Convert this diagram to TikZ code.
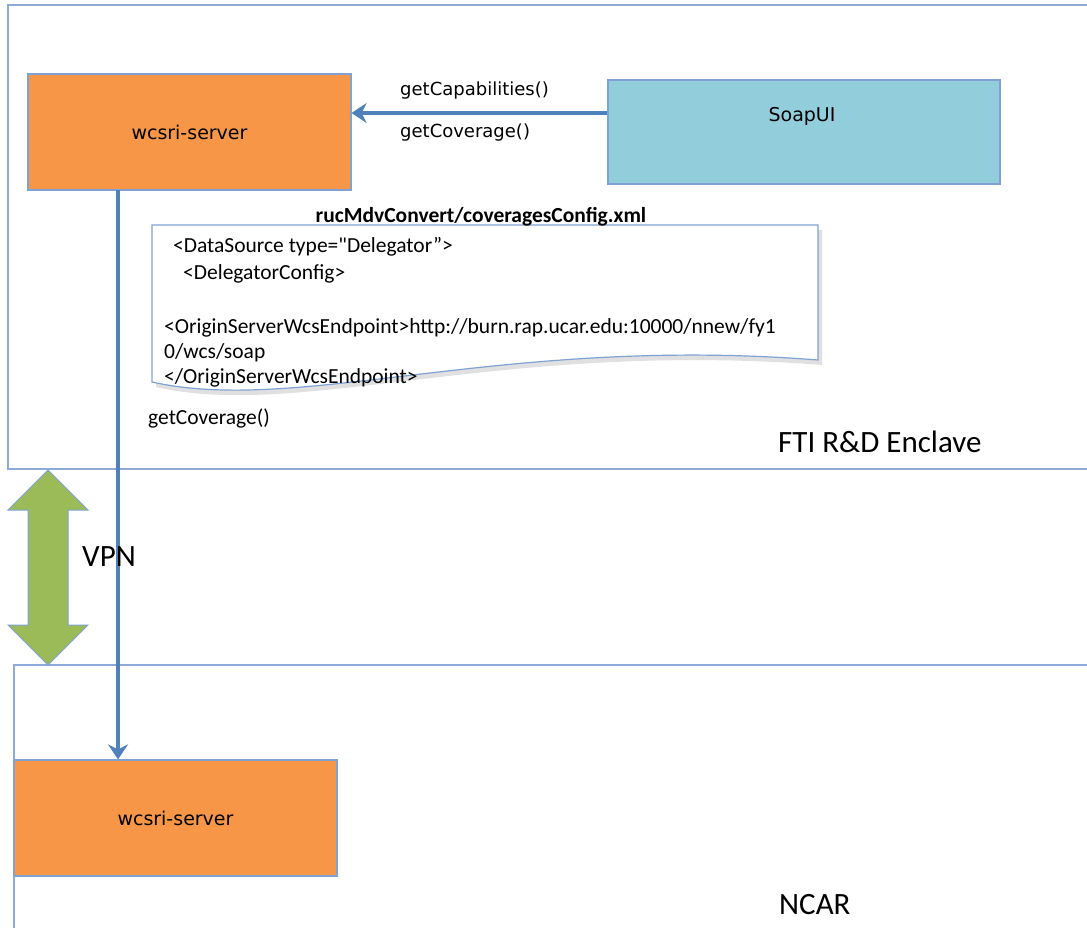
\documentclass[tikz,border=0pt]{standalone}
\usepackage{fontspec}
\setmainfont{Carlito}
\newfontfamily\vfont{DejaVu Sans}
\newfontfamily\docfont{Carlito}
\usetikzlibrary{arrows.meta}
\definecolor{zoneline}{HTML}{8EAADB}
\definecolor{boxline}{HTML}{7EA2D3}
\definecolor{orangefill}{HTML}{F79646}
\definecolor{soapfill}{HTML}{92CDDC}
\definecolor{flowblue}{HTML}{4F81BD}
\definecolor{vpngreen}{HTML}{9BBB59}
\tikzset{
  zone/.style={draw=zoneline, line width=1.5pt},
  server/.style={draw=boxline, line width=1.2pt, fill=orangefill, minimum width=323pt, minimum height=116pt, font=\vfont\fontsize{19}{22}\selectfont, inner sep=0pt},
  soap/.style={draw=boxline, line width=1.2pt, fill=soapfill, minimum width=392pt, minimum height=104pt, inner sep=0pt},
  flow/.style={draw=flowblue, line width=3.5pt, -{Stealth[length=15pt,width=20pt,inset=5pt]}},
  calltext/.style={font=\vfont\fontsize{18}{20}\selectfont, anchor=west, inner sep=0pt},
  doctext/.style={font=\docfont\fontsize{21.5}{24}\selectfont, anchor=west, inner sep=0pt},
  bigtext/.style={font=\fontsize{31}{34}\selectfont, anchor=west, inner sep=0pt},
}
\begin{document}
\begin{tikzpicture}[x=1pt,y=-1pt]
\useasboundingbox (0,0) rectangle (1087,927);
% zones
\draw[zone] (1100,5) -- (8,5) -- (8,469) -- (1100,469);
\draw[zone] (1100,665) -- (14,665) -- (14,940);
% servers
\node[server] (srvA) at (189.5,132) {wcsri-server};
\node[soap] (soapui) at (804,132) {};
\node[font=\vfont\fontsize{19}{22}\selectfont] (soaplabel) at (802,116) {SoapUI};
\node[server] (srvB) at (175.5,818) {wcsri-server};
% call arrow
\draw[flow] (soapui.west |- 0,113) -- (srvA.east |- 0,113);
\node[calltext] (capab) at (400,91) {getCapabilities()};
\node[calltext] (cov1) at (400,133) {getCoverage()};
% document shape
\fill[black!12] (156,230) -- (822,230) -- (822,365) .. controls (500,340) and (300,420) .. (156,387) -- cycle;
\draw[boxline, line width=1.2pt, fill=white] (152,225) -- (818,225) -- (818,360) .. controls (500,335) and (300,415) .. (152,382) -- cycle;
\node[font=\bfseries\fontsize{21.5}{24}\selectfont, inner sep=0pt] (doctitle) at (481,217) {rucMdvConvert/coveragesConfig.xml};
\node[doctext] (l1) at (173,247) {<DataSource type="Delegator”>};
\node[doctext] (l2) at (183,274) {<DelegatorConfig>};
\node[doctext] (l3) at (164,328) {<OriginServerWcsEndpoint>http://burn.rap.ucar.edu:10000/nnew/fy1};
\node[doctext] (l4) at (164,353) {0/wcs/soap};
\node[doctext] (l5) at (164,378) {</OriginServerWcsEndpoint>};
\node[doctext] (cov2) at (148,418) {getCoverage()};
% vertical flow
\coordinate (vtop) at (118,190);
\draw[flow] (vtop) -- (vtop |- srvB.north);
% VPN double arrow
\draw[boxline, line width=1pt, fill=vpngreen]
  (48,470) -- (88,510) -- (68,510) -- (68,625) -- (88,625) -- (48,665)
  -- (8,625) -- (28,625) -- (28,510) -- (8,510) -- cycle;
\node[bigtext] (vpnlabel) at (82,557) {VPN};
\node[bigtext] (fti) at (778,442) {FTI R\&D Enclave};
\node[bigtext] (ncar) at (779,905) {NCAR};
\end{tikzpicture}
\end{document}
